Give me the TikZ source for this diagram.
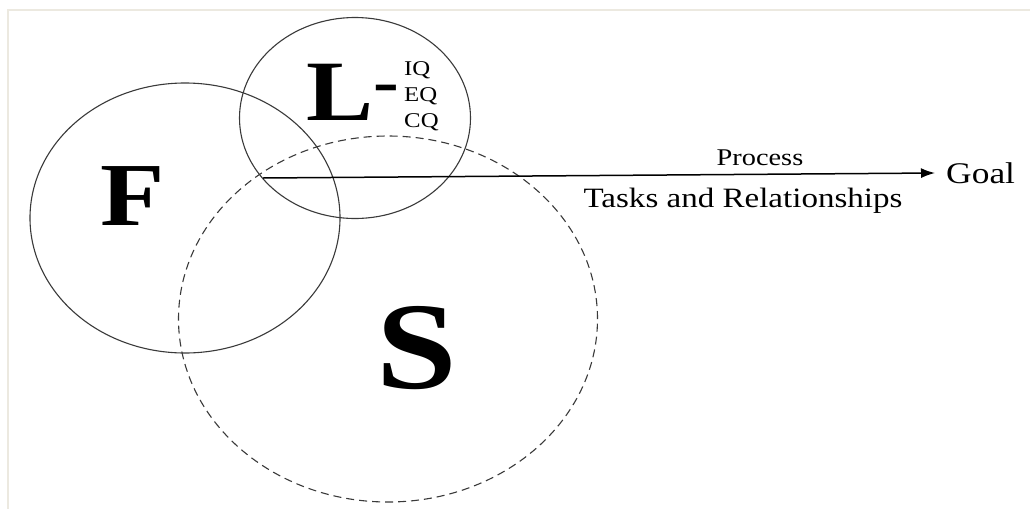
\documentclass[tikz,border=0pt]{standalone}
\usepackage{fontspec}
\setmainfont{Liberation Serif}
\usetikzlibrary{shapes.geometric,arrows.meta}
\definecolor{framec}{HTML}{ECE9E0}
\definecolor{ringc}{HTML}{3A3A3A}
\tikzset{
  ring/.style={draw=ringc, line width=1.1pt, ellipse, inner sep=0pt},
  bigletter/.style={inner sep=0pt, anchor=base, xscale=1.17},
  label/.style={inner sep=0pt, xscale=1.18},
}
\begin{document}
\begin{tikzpicture}[x=1pt,y=-1pt]
\useasboundingbox (0,0) rectangle (1030,509);
\fill[white] (0,0) rectangle (1030,509);
\draw[framec, line width=2pt] (8,509) -- (8,10) -- (1030,10);
% circles
\node[ring, minimum width=310pt, minimum height=270pt] (F) at (185,218) {};
\node[ring, minimum width=231pt, minimum height=201pt] (L) at (355,118) {};
\node[ring, dashed, dash pattern=on 8pt off 5pt, minimum width=419pt, minimum height=366pt] (S) at (388,319) {};
% big letters
\node[bigletter, font=\fontsize{90}{90}\selectfont\bfseries] (Ftext) at (133,225) {F};
\node[bigletter, anchor=base west, font=\fontsize{86}{86}\selectfont\bfseries] (Ltext) at (306,120) {L{\fontsize{66}{66}\selectfont\raisebox{16.5pt}{-}}};
\node[bigletter, font=\fontsize{124}{124}\selectfont\bfseries] (Stext) at (417,388) {S};
% IQ EQ CQ
\node[label, anchor=base west, font=\fontsize{21}{21}\selectfont] (iq) at (404,75) {IQ};
\node[label, anchor=base west, font=\fontsize{21}{21}\selectfont] (eq) at (404,101) {EQ};
\node[label, anchor=base west, font=\fontsize{21}{21}\selectfont] (cq) at (404,127) {CQ};
% process arrow
\coordinate (start) at (263,178);
\node[label, anchor=west, font=\fontsize{30}{30}\selectfont] (goal) at (946,173) {Goal};
\draw[line width=1.5pt, -{Latex[length=14pt,width=10pt]}] (start) -- (goal.west -| 935,178);
\node[label, anchor=base, font=\fontsize{24}{24}\selectfont] (process) at (760,165) {Process};
\node[label, anchor=base, font=\fontsize{28}{28}\selectfont] (tasks) at (743,207) {Tasks and Relationships};
\end{tikzpicture}
\end{document}
